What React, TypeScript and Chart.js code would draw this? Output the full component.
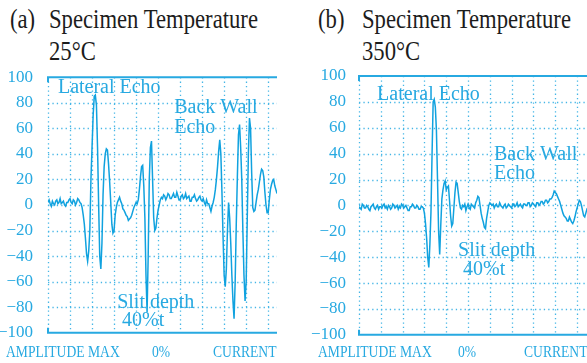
import React, { useEffect, useRef } from "react";
import { Chart, registerables } from "chart.js";

Chart.register(...registerables);

// ---- data ----
const Y_TICKS = [100, 80, 60, 40, 20, 0, -20, -40, -60, -80, -100];
const AXIS_LABELS = ["AMPLITUDE MAX", "0%", "CURRENT"];
const TITLE_A = ["(a)", "Specimen Temperature", "25°C"];
const TITLE_B = ["(b)", "Specimen Temperature", "350°C"];
const NOTES_A = ["Lateral Echo", "Back Wall", "Echo", "Slit depth", "40%t"];
const NOTES_B = ["Lateral Echo", "Back Wall", "Echo", "Slit depth", "40%t"];
const SAMPLES_PER_DIV = 20;

// echo amplitude (%), 20 samples per horizontal division, specimen at 25 °C
const ECHO_25C = [
  2, 4, 1, -1, 3, 1, 0, 3, 4, 1, 2, 5, 1, 2, 3, 0, -1, 2, 2, 4, 5, 2, 1, 4, 3, 0, 2, 5, 4, 2, 1, -2,
  -8, -15, -26, -38, -44, -36, -20, 20, 45, 70, 85, 86, 78, 45, 0, -40, -50, -30, 8, 30, 40, 44, 43, 32,
  18, 2, -15, -22, -20, -8, -2, 2,
  4, 6, 3, 1, -3, -4, -6, -8, -9, -12, -11, -10, -8, -5, -2, 0, 2, 1, 4, 12, 22, 30, 31, 15, -10, -55,
  -84, -40, 20, 45, 50, 20, -10, -20, -18, -10, -4, 0, 4, 6,
  5, 8, 7, 4, 6, 9, 8, 5, 5, 7, 9, 6, 6, 10, 7, 4, 4, 7, 8, 5, 6, 9, 5, 6, 7, 3, 3, 6, 6, 8, 5, 3,
  4, 6, 7, 4, 3, 5, 2, 0, 4, 1, 1, -2, -5, -1,
  2, 6, 12, 20, 30, 42, 51, 40, 10, -25, -55, -64, -50, -20, 2, -10, -30, -55, -75, -89, -60, -15,
  22, 55, 63, 45, 20, -20, -55, -75, -60, -10, 40, 68, 60, 25, -2, -5, -4, 2, 8, 12, 18, 24, 28, 27,
  22, 10, 0, -6, -6, 4, 12, 16, 19, 20, 15, 12, 9,
];

// echo amplitude (%), 20 samples per horizontal division, specimen at 350 °C
const ECHO_350C = [
  -1, -2, -3, 1, 0, -2, -2, 0, -1, -3, -4, -1, 0, 1, -2, -3, -1, 0, -3, -1, -1, -2, 0, 1, -2, -1,
  -3, 0, -1, -3, -2, 1, 0, -2, -1, 0, -3, -1, -2, 1, 0, -2, -1, 0, -2, -4, -4, -1, -1, 1, 0, -2,
  -2, 0, -1, -3, -3, -1, -1, -2,
  -6, -14, -25, -40, -48, -30, -5, 40, 80, 82, 76, 58, 20, -20, -38, -15, 5, 12, 17, 19, 12, 14,
  15, 4, -8, -16, -14, -2, 10, 18, 17, 10, 3, -2, -3, 0, -1, 1, -4, -1, 1, -2, -3, 1, 0, -1, -2, 2,
  4, 7, 6, 0, -6, -10, -13, -17, -18, -10, -5, 0, 2, 1,
  0, 1, -2, 0, 1, -1, -1, 2, 0, -1, -2, 0, 1, -2, -1, 1, 0, -1, -2, 1, 1, -1, 0, 2, -1, 0, 1, -1,
  -2, 1, 1, 0, 0, 2, 2, -1, 0, 2, 1, 0, -1, 2, 2, 0, 1, 3, 3, 1, 2, 4, 4, 2, 3, 5, 5, 6, 8, 11,
  10, 9, 7, 5, 3, 0, -3, -6, -8, -9, -10, -12, -12, -9, -11, -13, -14, -12, -9, -5, -2, 1, 4, 3,
  0, -4, -8, -9, -6, -3, -4,
];

// ---- styles ----
const BLUE_TEXT = "#27a9e1";
const BLUE_LINE = "#10a2df";
const BLUE_GRID = "#45b6e6";
const SERIF = "'Liberation Serif', 'Times New Roman', serif";

type Note = { text: string; x: number; y: number };

const fmtTick = (v: number) => (v < 0 ? "\u2212" + Math.abs(v) : String(v));

const scopePlugin = {
  id: "scope",
  beforeDatasetsDraw(chart: any, _args: any, opts: any) {
    const { ctx, chartArea: a, scales } = chart;
    const x = scales.x;
    const y = scales.y;
    ctx.save();
    ctx.strokeStyle = BLUE_GRID;
    ctx.lineWidth = 1.3;
    ctx.setLineDash([1.3, 3.1]);
    for (const v of Y_TICKS) {
      if (v === 100 || v === -100) continue;
      const py = Math.round(y.getPixelForValue(v)) + 0.5;
      ctx.beginPath();
      ctx.moveTo(a.left, py);
      ctx.lineTo(a.right, py);
      ctx.stroke();
    }
    for (let t = 0; t <= x.max; t += opts.division) {
      const px = Math.round(x.getPixelForValue(t)) + 0.5;
      ctx.beginPath();
      ctx.moveTo(px, a.top);
      ctx.lineTo(px, a.bottom);
      ctx.stroke();
    }
    ctx.restore();
  },
  afterDatasetsDraw(chart: any, _args: any, opts: any) {
    const { ctx, chartArea: a, scales } = chart;
    const x = scales.x;
    const y = scales.y;
    ctx.save();
    ctx.strokeStyle = BLUE_TEXT;
    ctx.lineWidth = 2;
    const top = y.getPixelForValue(100);
    const bot = y.getPixelForValue(-100);
    ctx.beginPath();
    ctx.moveTo(a.left, top + 5);
    ctx.lineTo(a.left, top);
    ctx.lineTo(a.right, top);
    ctx.moveTo(a.left, bot - 5);
    ctx.lineTo(a.left, bot);
    ctx.lineTo(a.right, bot);
    ctx.stroke();
    ctx.fillStyle = BLUE_TEXT;
    ctx.font = `20px ${SERIF}`;
    ctx.textAlign = "left";
    ctx.textBaseline = "alphabetic";
    for (const n of opts.notes as Note[]) {
      ctx.fillText(n.text, x.getPixelForValue(n.x), y.getPixelForValue(n.y));
    }
    ctx.restore();
  },
};

type PanelProps = {
  values: number[];
  left: number;
  width: number;
  axisWidth: number;
  plotWidth: number;
  tickPad: number;
  notes: Note[];
};

function Panel({ values, left, width, axisWidth, plotWidth, tickPad, notes }: PanelProps) {
  const ref = useRef<HTMLCanvasElement>(null);
  useEffect(() => {
    const chart = new Chart(ref.current as HTMLCanvasElement, {
      type: "line",
      data: {
        datasets: [
          {
            data: values.map((v, i) => ({ x: i, y: v })),
            borderColor: BLUE_LINE,
            borderWidth: 1.5,
            pointRadius: 0,
            tension: 0,
            fill: false,
          },
        ],
      },
      options: {
        animation: false,
        responsive: false,
        events: [],
        layout: {
          padding: { top: 16, bottom: 15, left: 0, right: width - axisWidth - plotWidth },
        },
        scales: {
          x: { type: "linear", display: false, min: 0, max: values.length - 1 },
          y: {
            min: -100,
            max: 100,
            afterFit(s: any) {
              s.width = axisWidth;
            },
            afterBuildTicks(s: any) {
              s.ticks = Y_TICKS.map((v) => ({ value: v }));
            },
            grid: { display: false },
            border: { display: false },
            ticks: {
              color: BLUE_TEXT,
              font: { family: SERIF, size: 17 },
              padding: tickPad,
              callback: (v: any) => fmtTick(Number(v)),
            },
          },
        },
        plugins: {
          legend: { display: false },
          tooltip: { enabled: false },
          scope: { notes, division: SAMPLES_PER_DIV },
        } as any,
      },
      plugins: [scopePlugin as any],
    });
    return () => chart.destroy();
  }, []);
  return (
    <canvas
      ref={ref}
      width={width}
      height={290}
      style={{ position: "absolute", left, top: 60 }}
    />
  );
}

const titleStyle = (left: number): React.CSSProperties => ({
  position: "absolute",
  left,
  top: 3,
  fontFamily: SERIF,
  fontSize: 28,
  lineHeight: "32px",
  color: "#1c1c1c",
  whiteSpace: "nowrap",
  transform: "scaleX(0.81)",
  transformOrigin: "left top",
});

const axisLabelStyle = (left: number): React.CSSProperties => ({
  position: "absolute",
  left,
  top: 342,
  fontFamily: SERIF,
  fontSize: 17,
  lineHeight: "20px",
  color: BLUE_TEXT,
  whiteSpace: "nowrap",
  transform: "scaleX(0.8)",
  transformOrigin: "left top",
});

export default function App() {
  const d = SAMPLES_PER_DIV / 10;
  const notesA: Note[] = [
    { text: NOTES_A[0], x: 4.5 * d, y: 87.6 },
    { text: NOTES_A[1], x: 57.3 * d, y: 72 },
    { text: NOTES_A[2], x: 57.3 * d, y: 56.6 },
    { text: NOTES_A[3], x: 31.4 * d, y: -80.6 },
    { text: NOTES_A[4], x: 33.6 * d, y: -95 },
  ];
  const notesB: Note[] = [
    { text: NOTES_B[0], x: 8.3 * d, y: 81.8 },
    { text: NOTES_B[1], x: 61.9 * d, y: 34.9 },
    { text: NOTES_B[2], x: 61.9 * d, y: 20.5 },
    { text: NOTES_B[3], x: 45.4 * d, y: -39 },
    { text: NOTES_B[4], x: 47.7 * d, y: -54 },
  ];
  const labelLeftA = [6, 152, 213];
  const labelLeftB = [318, 458, 524];
  return (
    <div
      style={{
        position: "absolute",
        left: 0,
        top: 0,
        width: 587,
        height: 363,
        overflow: "hidden",
        background: "#ffffff",
      }}
    >
      <div style={titleStyle(10)}>{TITLE_A[0]}</div>
      <div style={titleStyle(49)}>
        {TITLE_A[1]}
        <br />
        {TITLE_A[2]}
      </div>
      <div style={titleStyle(318)}>{TITLE_B[0]}</div>
      <div style={titleStyle(362)}>
        {TITLE_B[1]}
        <br />
        {TITLE_B[2]}
      </div>
      <Panel values={ECHO_25C} left={0} width={290} axisWidth={48} plotWidth={229} tickPad={7} notes={notesA} />
      <Panel values={ECHO_350C} left={295} width={300} axisWidth={64} plotWidth={229} tickPad={5} notes={notesB} />
      {AXIS_LABELS.map((t, i) => (
        <div key={"a" + i} style={axisLabelStyle(labelLeftA[i])}>
          {t}
        </div>
      ))}
      {AXIS_LABELS.map((t, i) => (
        <div key={"b" + i} style={axisLabelStyle(labelLeftB[i])}>
          {t}
        </div>
      ))}
    </div>
  );
}
